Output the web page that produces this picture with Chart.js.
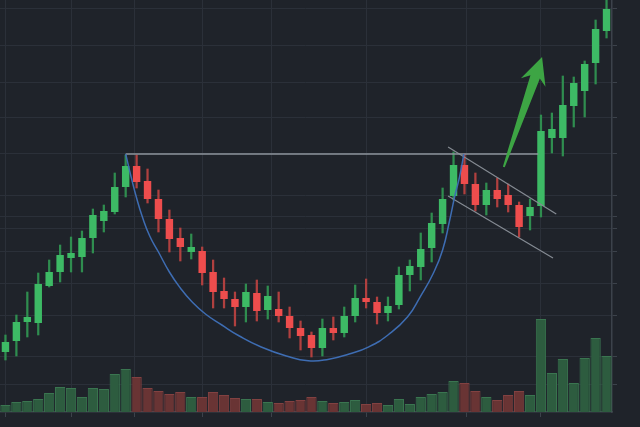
<!DOCTYPE html>
<html>
<head>
<meta charset="utf-8">
<script src="https://cdn.jsdelivr.net/npm/chart.js@4.4.0/dist/chart.umd.min.js"></script>
<style>
  html, body { margin: 0; padding: 0; background: #1f232a; }
  #wrap { width: 640px; height: 427px; }
</style>
</head>
<body>
<div id="wrap"><canvas id="chart"></canvas></div>
<script>
// candles
var opens  = [42,44.75,49.5,49.25,58.5,62,65.5,65.75,70.5,74.75,77,83.25,
              88.5,84.75,80.25,75.25,70.5,67,67.25,62,57.25,55.25,
              53.25,56.75,52.5,52.75,51,48,46.25,43,48,46.75,
              51,55.5,54.5,51.75,53.75,61.25,63.25,68,74,81,
              88.75,84,78.75,82.5,81.25,78.75,76,78.5,95.5,95.5,
              103.5,107.25,114.25,122.25];
var closes = [44.5,49.5,50.75,59,62,66.25,66.75,70.5,76.25,77.25,83.25,88.5,
              84.5,80.25,75.25,70.25,68.25,68.25,61.75,57,55.25,53.25,
              57,52.25,56,51,48,46,43,48,46.75,51,
              55.5,54.5,51.75,53.5,61.25,63.5,67.75,74.25,80.25,88.75,
              84,78.75,82.5,80.25,78.75,73.25,78.25,97.25,97.75,103.75,
              109.25,114,122.75,127.75];
var highs  = [46.25,51.25,57,61.75,65,68.75,70.75,72.25,77.75,78.75,86.75,91.25,
              91.25,87.75,82.5,77.5,73,71.5,68.25,65,60.5,57,
              59,60,58.5,57,53.25,49.75,47,50.25,50.75,53.25,
              58.75,60.25,55.75,55.75,63.25,65,71.75,76.75,83,92,
              91.5,86.75,84.25,85.5,84,79.5,80.25,101.25,101.75,111,
              110.75,114.75,125,131.25];
var lows   = [40,41,45.75,46.25,58.25,59.5,62,62,66.75,72,76.5,80.75,
              83,79.25,72,67,64.75,65.25,58.75,53,53,48.5,
              49.5,49.75,50.25,49.5,45.5,42.5,40.75,41,45,45.75,
              49.5,53,49,49.75,52.75,57.25,60,64.5,71.75,80,
              81.5,77.25,76.25,78.25,77,70.75,72.5,75.75,91.75,91,
              98.25,100.75,109,120.5];
var volumes = [7,10,11,13,19,25,24,15,24,23,38,43,35,24,21,18,20,15,15,20,
               17,14,13,13,10,9,11,12,15,11,9,10,12,8,9,7,13,8,15,18,
               20,31,29,21,15,12,17,21,17,93,39,53,29,54,74,56];

// grid tick positions (candle index / price)
var gridX = [0, 6, 11.8, 18, 24.3, 33, 42.2, 49];
var gridY = [127.75, 118.5, 109.5, 100.75, 91.5, 81.25, 76, 73, 67, 59.25, 51.25, 41, 34];

// drawn pattern: cup, rim, handle channel, breakout arrow
var cupCurve = [[11,91.5],[11.5,85.75],[12,80.5],[12.5,76],[13.2,71],[14,67],[15,62],
                [16,58],[17,54.75],[18.3,51.5],[19.8,48.75],[21.4,46],[23.4,43.25],
                [25.7,41],[27.7,39.8],[29.6,40.2],[31.45,41.5],[33.25,43.3],[35,46.25],
                [36.8,50.8],[37.95,55.8],[39.15,61.7],[40,67.5],[40.65,75],[41.1,80.8],
                [41.55,85.8],[41.95,91.5]];
var rimLine = [[11,91.5],[48.75,91.5]];
var channelTop = [[40.5,93.25],[50.4,76.5]];
var channelBottom = [[40.5,81],[50.1,65.5]];
var arrowFrom = [45.6,88.25];
var arrowTo = [49.1,115.75];

var days = opens.map(function(_, i){ return 'D' + (i + 1); });
var up = opens.map(function(o, i){ return closes[i] >= o; });

function pts(arr){ return arr.map(function(p){ return {x: p[0], y: p[1]}; }); }

var arrowPlugin = {
  id: 'arrow',
  afterDatasetsDraw: function(chart) {
    var xs = chart.scales.xl, ys = chart.scales.y, ctx = chart.ctx;
    var x0 = xs.getPixelForValue(arrowFrom[0]), y0 = ys.getPixelForValue(arrowFrom[1]);
    var x1 = xs.getPixelForValue(arrowTo[0]), y1 = ys.getPixelForValue(arrowTo[1]);
    var dx = x1 - x0, dy = y1 - y0, len = Math.sqrt(dx*dx + dy*dy);
    var ux = dx/len, uy = dy/len, nx = -uy, ny = ux;
    var headLen = 27, headHalf = 13, neckHalf = 5, tailHalf = 1;
    var bx = x1 - ux*headLen, by = y1 - uy*headLen;
    var kx = x1 - ux*(headLen - 6), ky = y1 - uy*(headLen - 6);
    ctx.save();
    ctx.fillStyle = '#3da544';
    ctx.beginPath();
    ctx.moveTo(x0 + nx*tailHalf, y0 + ny*tailHalf);
    ctx.lineTo(kx + nx*neckHalf, ky + ny*neckHalf);
    ctx.lineTo(bx + nx*headHalf, by + ny*headHalf);
    ctx.lineTo(x1, y1);
    ctx.lineTo(bx - nx*headHalf, by - ny*headHalf);
    ctx.lineTo(kx - nx*neckHalf, ky - ny*neckHalf);
    ctx.lineTo(x0 - nx*tailHalf, y0 - ny*tailHalf);
    ctx.closePath();
    ctx.fill();
    ctx.restore();
  }
};

var gridColor = '#2b3039';
var axisColor = '#3c424b';

new Chart(document.getElementById('chart'), {
  type: 'bar',
  data: {
    labels: days,
    datasets: [
      {
        type: 'line', label: 'cup', xAxisID: 'xl', yAxisID: 'y', order: 0,
        data: pts(cupCurve), borderColor: '#3e6db3', borderWidth: 1.5,
        pointRadius: 0, tension: 0.5, fill: false
      },
      {
        type: 'line', label: 'rim', xAxisID: 'xl', yAxisID: 'y', order: 0,
        data: pts(rimLine), borderColor: '#8e959d', borderWidth: 1.5, pointRadius: 0
      },
      {
        type: 'line', label: 'channel top', xAxisID: 'xl', yAxisID: 'y', order: 0,
        data: pts(channelTop), borderColor: '#858b93', borderWidth: 1.2, pointRadius: 0
      },
      {
        type: 'line', label: 'channel bottom', xAxisID: 'xl', yAxisID: 'y', order: 0,
        data: pts(channelBottom), borderColor: '#858b93', borderWidth: 1.2, pointRadius: 0
      },
      {
        label: 'body', xAxisID: 'x', yAxisID: 'y', order: 1, grouped: false,
        data: opens.map(function(o, i){ return [o, closes[i]]; }),
        backgroundColor: up.map(function(u){ return u ? '#3dba65' : '#ee4d4d'; }),
        barPercentage: 0.68, categoryPercentage: 1, borderWidth: 0
      },
      {
        label: 'wick', xAxisID: 'x', yAxisID: 'y', order: 2, grouped: false,
        data: lows.map(function(l, i){ return [l, highs[i]]; }),
        backgroundColor: up.map(function(u){ return u ? '#2f8d4f' : '#b0403f'; }),
        barThickness: 1.6, borderWidth: 0
      },
      {
        label: 'volume', xAxisID: 'x', yAxisID: 'yv', order: 3, grouped: false,
        data: volumes,
        backgroundColor: up.map(function(u){ return u ? '#2d5c3f' : '#693434'; }),
        borderColor: up.map(function(u){ return u ? '#3a7550' : '#824141'; }),
        borderWidth: 1, borderSkipped: 'bottom',
        barPercentage: 0.94, categoryPercentage: 1
      }
    ]
  },
  options: {
    responsive: true,
    maintainAspectRatio: false,
    animation: false,
    events: [],
    layout: { padding: { left: 0, top: 0, right: 23, bottom: 10 } },
    plugins: { legend: { display: false }, tooltip: { enabled: false } },
    scales: {
      x: { type: 'category', display: false, offset: true },
      xl: {
        type: 'linear', position: 'bottom', min: -0.5, max: opens.length - 0.5,
        offset: false,
        afterBuildTicks: function(axis){ axis.ticks = gridX.map(function(v){ return {value: v}; }); },
        ticks: { display: false },
        grid: { color: gridColor, tickColor: axisColor, tickLength: 5, offset: false },
        border: { display: true, color: axisColor, width: 1.5 }
      },
      y: {
        type: 'linear', position: 'right', min: 27, max: 130,
        afterBuildTicks: function(axis){ axis.ticks = gridY.map(function(v){ return {value: v}; }); },
        ticks: { display: false },
        grid: { color: gridColor, tickColor: axisColor, tickLength: 5 },
        border: { display: true, color: axisColor, width: 1.5 }
      },
      yv: { type: 'linear', display: false, min: 0, max: 412 }
    }
  },
  plugins: [arrowPlugin]
});
</script>
</body>
</html>
